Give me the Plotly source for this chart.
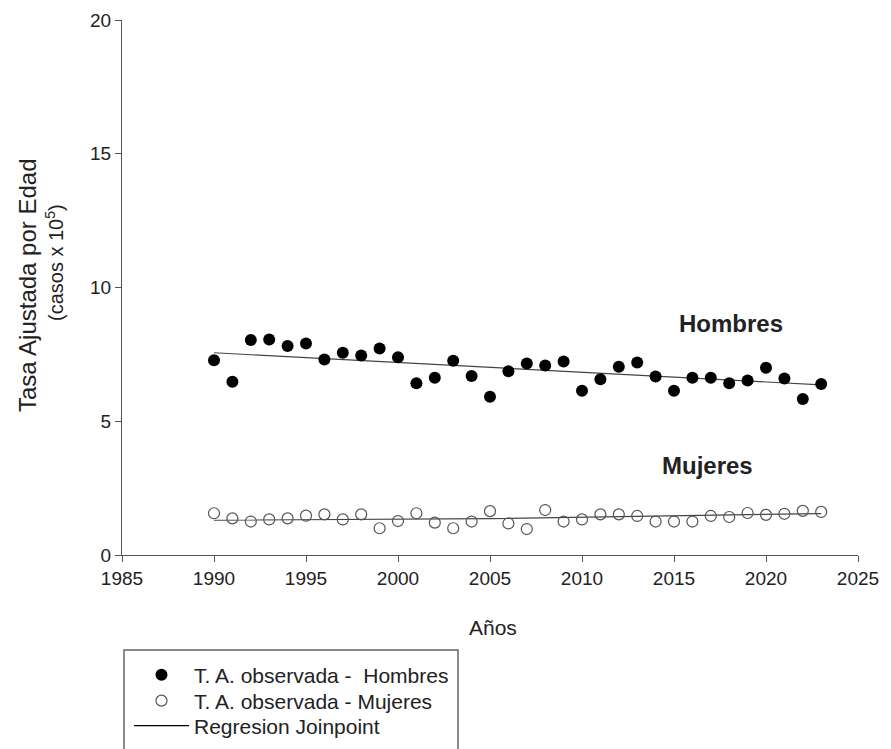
import plotly.graph_objects as go

years = list(range(1990, 2024))
hombres = [7.28, 6.48, 8.04, 8.06, 7.81, 7.91, 7.31, 7.56, 7.46, 7.72,
           7.39, 6.42, 6.63, 7.26, 6.69, 5.92, 6.87, 7.16, 7.08, 7.23,
           6.14, 6.57, 7.04, 7.20, 6.67, 6.14, 6.63, 6.63, 6.42, 6.52,
           7.00, 6.60, 5.83, 6.39]
mujeres = [1.56, 1.37, 1.25, 1.33, 1.37, 1.47, 1.52, 1.33, 1.52, 1.00,
           1.27, 1.56, 1.21, 1.00, 1.25, 1.64, 1.18, 0.97, 1.68, 1.25,
           1.33, 1.52, 1.52, 1.46, 1.25, 1.25, 1.25, 1.46, 1.42, 1.57,
           1.50, 1.54, 1.65, 1.61]
reg_years_h = [1990, 2023]
reg_hombres = [7.56, 6.36]
reg_years_m = [1990, 2005, 2023]
reg_mujeres = [1.30, 1.36, 1.55]

x_ticks = [1985, 1990, 1995, 2000, 2005, 2010, 2015, 2020, 2025]
y_ticks = [0, 5, 10, 15, 20]

FONT = "Liberation Sans, Arial, sans-serif"
TXT = "#222222"
AX = "#555555"

fig = go.Figure()
fig.add_trace(go.Scatter(x=reg_years_h, y=reg_hombres, mode="lines",
                         line=dict(color="#444444", width=1.2),
                         name="Regresion Joinpoint", showlegend=False))
fig.add_trace(go.Scatter(x=reg_years_m, y=reg_mujeres, mode="lines",
                         line=dict(color="#444444", width=1.2),
                         name="Regresion Joinpoint", showlegend=False))
fig.add_trace(go.Scatter(x=years, y=hombres, mode="markers",
                         marker=dict(symbol="circle", size=12, color="black",
                                     line=dict(width=0)),
                         name="T. A. observada -  Hombres", legend="legend"))
fig.add_trace(go.Scatter(x=years, y=mujeres, mode="markers",
                         marker=dict(symbol="circle-open", size=11, color="#555555",
                                     line=dict(width=1.2, color="#555555")),
                         name="T. A. observada - Mujeres", legend="legend2"))
fig.add_trace(go.Scatter(x=[1990], y=[None], mode="lines",
                         line=dict(color="black", width=1.2),
                         name="Regresion Joinpoint", legend="legend3"))

leg_common = dict(x=0.0095, xanchor="left", yanchor="middle",
                  bgcolor="rgba(0,0,0,0)", borderwidth=0,
                  font=dict(size=21, color=TXT, family=FONT), itemwidth=55)

fig.update_layout(
    width=883, height=741,
    margin=dict(l=114, r=33, t=12, b=194, autoexpand=False),
    paper_bgcolor="white", plot_bgcolor="white",
    font=dict(family=FONT, color=TXT, size=19),
    showlegend=True,
    legend=dict(y=-0.2243, **leg_common),
    legend2=dict(y=-0.2729, **leg_common),
    legend3=dict(y=-0.3196, **leg_common),
    xaxis=dict(range=[1985, 2025], tickvals=x_ticks, showgrid=False, zeroline=False,
               showline=True, linecolor=AX, linewidth=1.2, ticks="outside",
               ticklen=6, tickcolor=AX, tickfont=dict(size=19, color=TXT),
               automargin=False),
    yaxis=dict(range=[0, 20], tickvals=y_ticks, showgrid=False, zeroline=False,
               showline=True, linecolor=AX, linewidth=1.2, ticks="outside",
               ticklen=6, tickcolor=AX, tickfont=dict(size=19, color=TXT),
               automargin=False),
)

fig.add_shape(type="rect", xref="paper", yref="paper",
              x0=0.0027, x1=0.4565, y0=-0.45, y1=-0.1776,
              line=dict(color="#666666", width=1.5), fillcolor="rgba(0,0,0,0)")

fig.add_annotation(text="<b>Hombres</b>", xref="x", yref="y", x=2018.1, y=8.67,
                   showarrow=False, font=dict(size=24, color=TXT, family=FONT),
                   xanchor="center", yanchor="middle")
fig.add_annotation(text="<b>Mujeres</b>", xref="x", yref="y", x=2016.8, y=3.36,
                   showarrow=False, font=dict(size=24, color=TXT, family=FONT),
                   xanchor="center", yanchor="middle")

fig.add_annotation(text="Años", xref="paper", yref="paper", x=0.5046, y=-0.1346,
                   showarrow=False, font=dict(size=21, color=TXT, family=FONT),
                   xanchor="center", yanchor="middle")
fig.add_annotation(text="Tasa Ajustada por Edad", xref="paper", yref="paper",
                   x=-0.1277, y=0.5047, textangle=-90, showarrow=False,
                   font=dict(size=24, color=TXT, family=FONT),
                   xanchor="center", yanchor="middle")
fig.add_annotation(text="(casos x 10<sup>5</sup>)", xref="paper", yref="paper",
                   x=-0.0910, y=0.5458, textangle=-90, showarrow=False,
                   font=dict(size=20, color=TXT, family=FONT),
                   xanchor="center", yanchor="middle")

fig.write_html("out.html")
